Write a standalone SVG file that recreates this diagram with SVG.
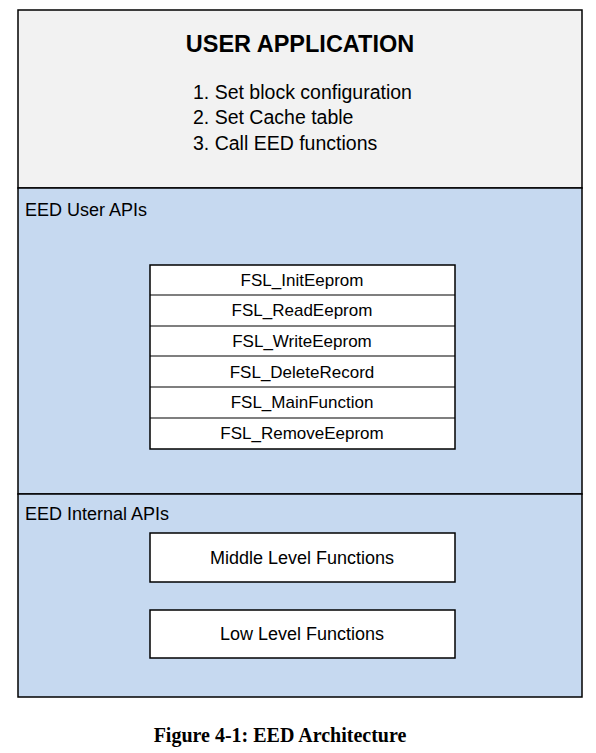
<svg xmlns="http://www.w3.org/2000/svg" width="596" height="753" viewBox="0 0 596 753">
<style>
.lbl{font-family:"Liberation Sans",Arial,sans-serif;font-size:18px;fill:#000}
.fn{font-family:"Liberation Sans",Arial,sans-serif;font-size:17px;fill:#000;text-anchor:middle}
.fn2{font-family:"Liberation Sans",Arial,sans-serif;font-size:18px;fill:#000;text-anchor:middle}
.box{fill:#fff;stroke:#000;stroke-width:1.5}
.sep{stroke:#000;stroke-width:1.2}
</style>
<rect width="596" height="753" fill="#fff"/>
<g id="user-application">
<rect x="18" y="10" width="564" height="178" fill="#f2f2f2" stroke="#000" stroke-width="1.5"/>
<text x="300" y="52" text-anchor="middle" style="font-family:'Liberation Sans',Arial,sans-serif;font-size:23.5px;font-weight:bold">USER APPLICATION</text>
<text class="lbl" x="193" y="99" style="font-size:19.5px">1. Set block configuration</text>
<text class="lbl" x="193" y="124" style="font-size:19.5px">2. Set Cache table</text>
<text class="lbl" x="193" y="150" style="font-size:19.5px">3. Call EED functions</text>
</g>
<g id="eed-user-apis">
<rect x="18" y="188" width="564" height="306" fill="#c6d9f0" stroke="#000" stroke-width="1.5"/>
<text class="lbl" x="25" y="216">EED User APIs</text>
</g>
<g id="eed-internal-apis">
<rect x="18" y="494" width="564" height="203" fill="#c6d9f0" stroke="#000" stroke-width="1.5"/>
<text class="lbl" x="25" y="520">EED Internal APIs</text>
</g>
<g id="user-api-table">
<rect class="box" x="150" y="265" width="305" height="184"/>
<line class="sep" x1="150" y1="295" x2="455" y2="295"/>
<line class="sep" x1="150" y1="326" x2="455" y2="326"/>
<line class="sep" x1="150" y1="356" x2="455" y2="356"/>
<line class="sep" x1="150" y1="387" x2="455" y2="387"/>
<line class="sep" x1="150" y1="418" x2="455" y2="418"/>
</g>
<g id="fsl-initeeprom"><text class="fn" x="302" y="286">FSL_InitEeprom</text></g>
<g id="fsl-readeeprom"><text class="fn" x="302" y="316">FSL_ReadEeprom</text></g>
<g id="fsl-writeeeprom"><text class="fn" x="302" y="347">FSL_WriteEeprom</text></g>
<g id="fsl-deleterecord"><text class="fn" x="302" y="378">FSL_DeleteRecord</text></g>
<g id="fsl-mainfunction"><text class="fn" x="302" y="408">FSL_MainFunction</text></g>
<g id="fsl-removeeeprom"><text class="fn" x="302" y="439">FSL_RemoveEeprom</text></g>
<g id="middle-level">
<rect class="box" x="150" y="533" width="305" height="49"/>
<text class="fn2" x="302" y="564">Middle Level Functions</text>
</g>
<g id="low-level">
<rect class="box" x="150" y="610" width="305" height="48"/>
<text class="fn2" x="302" y="640">Low Level Functions</text>
</g>
<g id="connectors"></g>
<text x="280" y="742" text-anchor="middle" style="font-family:'Liberation Serif','Times New Roman',serif;font-size:20px;font-weight:bold">Figure 4-1: EED Architecture</text>
</svg>
